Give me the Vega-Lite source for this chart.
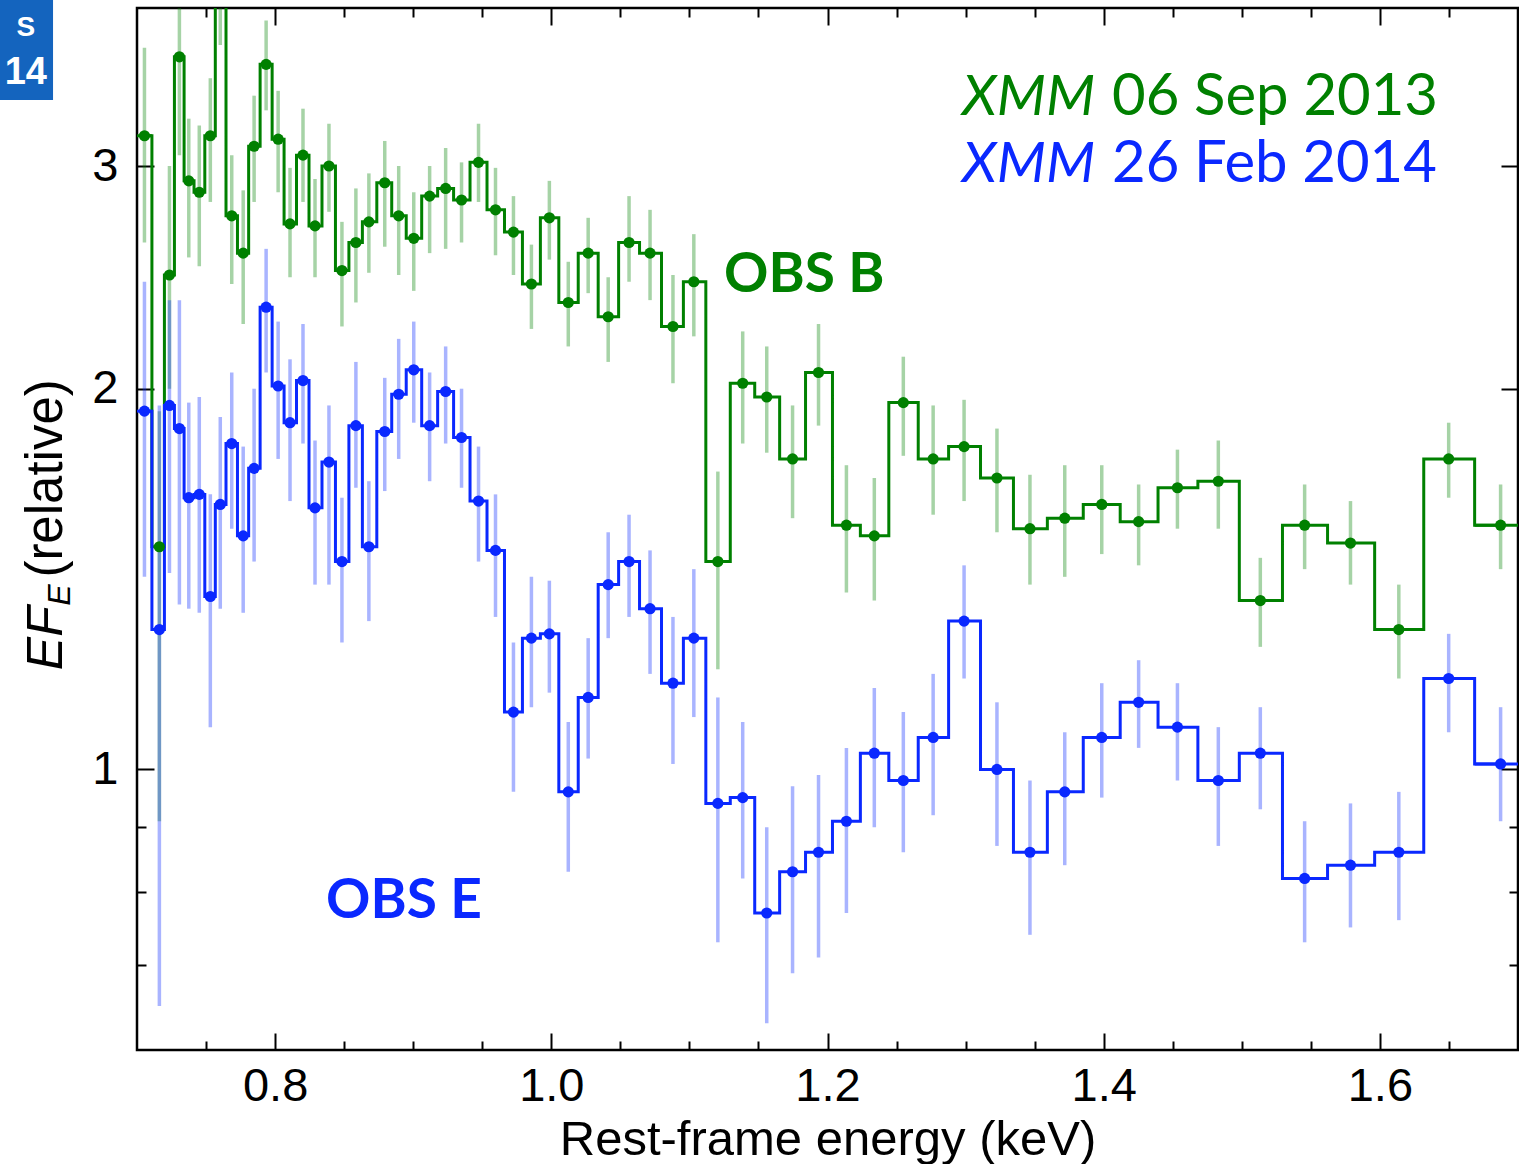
{
  "$schema": "https://vega.github.io/schema/vega-lite/v6.json",
  "width": 1381,
  "height": 1042,
  "autosize": {"type": "none"},
  "padding": {"left": 137, "top": 8, "right": 1, "bottom": 114},
  "background": "white",
  "config": {
    "view": {"stroke": "black", "strokeWidth": 2.5},
    "axis": {"labelFont": "Liberation Sans", "titleFont": "Liberation Sans", "tickColor": "black", "tickWidth": 2, "domain": false, "grid": false, "labelColor": "black", "titleColor": "black", "labelOverlap": false, "labelFlush": false}
  },
  "datasets": {
    "spec": [
      {"s":"B","e":0.7054,"v":3.17,"lo":2.61,"hi":3.72,"e0":0.699,"e1":0.7108},
      {"s":"B","e":0.7162,"v":1.50,"lo":0.91,"hi":1.92},
      {"s":"B","e":0.7235,"v":2.46,"lo":2.00,"hi":3.00},
      {"s":"B","e":0.7307,"v":3.66,"lo":3.06,"hi":4.26},
      {"s":"B","e":0.7375,"v":2.92,"lo":2.54,"hi":3.27},
      {"s":"B","e":0.7451,"v":2.86,"lo":2.50,"hi":3.23},
      {"s":"B","e":0.7531,"v":3.17,"lo":2.81,"hi":3.52},
      {"s":"B","e":0.7603,"v":4.40,"lo":3.74,"hi":5.10},
      {"s":"B","e":0.7686,"v":2.74,"lo":2.42,"hi":3.06},
      {"s":"B","e":0.7769,"v":2.56,"lo":2.25,"hi":2.87},
      {"s":"B","e":0.7848,"v":3.11,"lo":2.81,"hi":3.41},
      {"s":"B","e":0.7935,"v":3.61,"lo":3.32,"hi":3.91},
      {"s":"B","e":0.8022,"v":3.15,"lo":2.86,"hi":3.44},
      {"s":"B","e":0.8108,"v":2.70,"lo":2.45,"hi":2.99},
      {"s":"B","e":0.8202,"v":3.06,"lo":2.81,"hi":3.33},
      {"s":"B","e":0.8289,"v":2.69,"lo":2.45,"hi":2.93},
      {"s":"B","e":0.8390,"v":3.00,"lo":2.76,"hi":3.24},
      {"s":"B","e":0.8484,"v":2.48,"lo":2.24,"hi":2.71},
      {"s":"B","e":0.8585,"v":2.61,"lo":2.34,"hi":2.88},
      {"s":"B","e":0.8679,"v":2.71,"lo":2.47,"hi":2.96},
      {"s":"B","e":0.8794,"v":2.91,"lo":2.59,"hi":3.14},
      {"s":"B","e":0.8895,"v":2.74,"lo":2.46,"hi":3.00},
      {"s":"B","e":0.9004,"v":2.63,"lo":2.39,"hi":2.86},
      {"s":"B","e":0.9119,"v":2.84,"lo":2.56,"hi":3.00},
      {"s":"B","e":0.9235,"v":2.88,"lo":2.58,"hi":3.10},
      {"s":"B","e":0.9350,"v":2.82,"lo":2.61,"hi":3.02},
      {"s":"B","e":0.9473,"v":3.02,"lo":2.81,"hi":3.24},
      {"s":"B","e":0.9596,"v":2.77,"lo":2.55,"hi":2.99},
      {"s":"B","e":0.9726,"v":2.66,"lo":2.46,"hi":2.84},
      {"s":"B","e":0.9856,"v":2.42,"lo":2.23,"hi":2.60},
      {"s":"B","e":0.9986,"v":2.73,"lo":2.53,"hi":2.92},
      {"s":"B","e":1.0123,"v":2.34,"lo":2.16,"hi":2.52},
      {"s":"B","e":1.0267,"v":2.56,"lo":2.38,"hi":2.73},
      {"s":"B","e":1.0412,"v":2.28,"lo":2.10,"hi":2.45},
      {"s":"B","e":1.0563,"v":2.61,"lo":2.43,"hi":2.84},
      {"s":"B","e":1.0715,"v":2.56,"lo":2.35,"hi":2.77},
      {"s":"B","e":1.0881,"v":2.24,"lo":2.02,"hi":2.46},
      {"s":"B","e":1.1032,"v":2.43,"lo":2.20,"hi":2.65},
      {"s":"B","e":1.1206,"v":1.46,"lo":1.20,"hi":1.72},
      {"s":"B","e":1.1386,"v":2.02,"lo":1.81,"hi":2.22},
      {"s":"B","e":1.1560,"v":1.97,"lo":1.78,"hi":2.16},
      {"s":"B","e":1.1747,"v":1.76,"lo":1.58,"hi":1.94},
      {"s":"B","e":1.1935,"v":2.06,"lo":1.87,"hi":2.25},
      {"s":"B","e":1.2137,"v":1.56,"lo":1.38,"hi":1.74},
      {"s":"B","e":1.2339,"v":1.53,"lo":1.36,"hi":1.70},
      {"s":"B","e":1.2549,"v":1.95,"lo":1.77,"hi":2.12},
      {"s":"B","e":1.2765,"v":1.76,"lo":1.59,"hi":1.94},
      {"s":"B","e":1.2989,"v":1.80,"lo":1.63,"hi":1.96},
      {"s":"B","e":1.3227,"v":1.70,"lo":1.54,"hi":1.86},
      {"s":"B","e":1.3466,"v":1.55,"lo":1.40,"hi":1.71},
      {"s":"B","e":1.3718,"v":1.58,"lo":1.42,"hi":1.74},
      {"s":"B","e":1.3986,"v":1.62,"lo":1.48,"hi":1.74},
      {"s":"B","e":1.4253,"v":1.57,"lo":1.45,"hi":1.68},
      {"s":"B","e":1.4534,"v":1.67,"lo":1.55,"hi":1.79},
      {"s":"B","e":1.4830,"v":1.69,"lo":1.55,"hi":1.82},
      {"s":"B","e":1.5134,"v":1.36,"lo":1.25,"hi":1.47},
      {"s":"B","e":1.5455,"v":1.56,"lo":1.44,"hi":1.68},
      {"s":"B","e":1.5787,"v":1.51,"lo":1.40,"hi":1.63},
      {"s":"B","e":1.6137,"v":1.29,"lo":1.18,"hi":1.40},
      {"s":"B","e":1.6498,"v":1.76,"lo":1.64,"hi":1.88},
      {"s":"B","e":1.6874,"v":1.56,"lo":1.44,"hi":1.68,"e0":1.6686,"e1":1.72},
      {"s":"E","e":0.7054,"v":1.92,"lo":1.42,"hi":2.43,"e0":0.699,"e1":0.7108},
      {"s":"E","e":0.7162,"v":1.29,"lo":0.65,"hi":1.94},
      {"s":"E","e":0.7235,"v":1.94,"lo":1.43,"hi":2.35},
      {"s":"E","e":0.7307,"v":1.86,"lo":1.35,"hi":2.35},
      {"s":"E","e":0.7375,"v":1.64,"lo":1.34,"hi":1.95},
      {"s":"E","e":0.7451,"v":1.65,"lo":1.33,"hi":1.97},
      {"s":"E","e":0.7531,"v":1.37,"lo":1.08,"hi":1.65},
      {"s":"E","e":0.7603,"v":1.62,"lo":1.34,"hi":1.90},
      {"s":"E","e":0.7686,"v":1.81,"lo":1.55,"hi":2.06},
      {"s":"E","e":0.7769,"v":1.53,"lo":1.33,"hi":1.80},
      {"s":"E","e":0.7848,"v":1.73,"lo":1.46,"hi":2.00},
      {"s":"E","e":0.7935,"v":2.32,"lo":2.06,"hi":2.58},
      {"s":"E","e":0.8022,"v":2.01,"lo":1.76,"hi":2.26},
      {"s":"E","e":0.8108,"v":1.88,"lo":1.63,"hi":2.11},
      {"s":"E","e":0.8202,"v":2.03,"lo":1.81,"hi":2.25},
      {"s":"E","e":0.8289,"v":1.61,"lo":1.40,"hi":1.82},
      {"s":"E","e":0.8390,"v":1.75,"lo":1.40,"hi":1.94},
      {"s":"E","e":0.8484,"v":1.46,"lo":1.26,"hi":1.64},
      {"s":"E","e":0.8585,"v":1.87,"lo":1.67,"hi":2.10},
      {"s":"E","e":0.8679,"v":1.50,"lo":1.31,"hi":1.69},
      {"s":"E","e":0.8794,"v":1.85,"lo":1.66,"hi":2.04},
      {"s":"E","e":0.8895,"v":1.98,"lo":1.76,"hi":2.19},
      {"s":"E","e":0.9004,"v":2.07,"lo":1.88,"hi":2.26},
      {"s":"E","e":0.9119,"v":1.87,"lo":1.69,"hi":2.06},
      {"s":"E","e":0.9235,"v":1.99,"lo":1.81,"hi":2.16},
      {"s":"E","e":0.9350,"v":1.83,"lo":1.67,"hi":2.00},
      {"s":"E","e":0.9473,"v":1.63,"lo":1.46,"hi":1.80},
      {"s":"E","e":0.9596,"v":1.49,"lo":1.32,"hi":1.65},
      {"s":"E","e":0.9726,"v":1.11,"lo":0.96,"hi":1.26},
      {"s":"E","e":0.9856,"v":1.27,"lo":1.12,"hi":1.42},
      {"s":"E","e":0.9986,"v":1.28,"lo":1.15,"hi":1.41},
      {"s":"E","e":1.0123,"v":0.96,"lo":0.83,"hi":1.09},
      {"s":"E","e":1.0267,"v":1.14,"lo":1.02,"hi":1.27},
      {"s":"E","e":1.0412,"v":1.40,"lo":1.27,"hi":1.54},
      {"s":"E","e":1.0563,"v":1.46,"lo":1.32,"hi":1.59},
      {"s":"E","e":1.0715,"v":1.34,"lo":1.19,"hi":1.49},
      {"s":"E","e":1.0881,"v":1.17,"lo":1.01,"hi":1.32},
      {"s":"E","e":1.1032,"v":1.27,"lo":1.10,"hi":1.44},
      {"s":"E","e":1.1206,"v":0.94,"lo":0.73,"hi":1.14},
      {"s":"E","e":1.1386,"v":0.95,"lo":0.82,"hi":1.09},
      {"s":"E","e":1.1560,"v":0.77,"lo":0.63,"hi":0.90},
      {"s":"E","e":1.1747,"v":0.83,"lo":0.69,"hi":0.97},
      {"s":"E","e":1.1935,"v":0.86,"lo":0.71,"hi":0.99},
      {"s":"E","e":1.2137,"v":0.91,"lo":0.77,"hi":1.04},
      {"s":"E","e":1.2339,"v":1.03,"lo":0.90,"hi":1.16},
      {"s":"E","e":1.2549,"v":0.98,"lo":0.86,"hi":1.11},
      {"s":"E","e":1.2765,"v":1.06,"lo":0.92,"hi":1.19},
      {"s":"E","e":1.2989,"v":1.31,"lo":1.18,"hi":1.45},
      {"s":"E","e":1.3227,"v":1.00,"lo":0.87,"hi":1.13},
      {"s":"E","e":1.3466,"v":0.86,"lo":0.74,"hi":0.98},
      {"s":"E","e":1.3718,"v":0.96,"lo":0.84,"hi":1.07},
      {"s":"E","e":1.3986,"v":1.06,"lo":0.95,"hi":1.17},
      {"s":"E","e":1.4253,"v":1.13,"lo":1.04,"hi":1.22},
      {"s":"E","e":1.4534,"v":1.08,"lo":0.98,"hi":1.17},
      {"s":"E","e":1.4830,"v":0.98,"lo":0.87,"hi":1.08},
      {"s":"E","e":1.5134,"v":1.03,"lo":0.93,"hi":1.12},
      {"s":"E","e":1.5455,"v":0.82,"lo":0.73,"hi":0.91},
      {"s":"E","e":1.5787,"v":0.84,"lo":0.75,"hi":0.94},
      {"s":"E","e":1.6137,"v":0.86,"lo":0.76,"hi":0.96},
      {"s":"E","e":1.6498,"v":1.18,"lo":1.07,"hi":1.28},
      {"s":"E","e":1.6874,"v":1.01,"lo":0.91,"hi":1.12,"e0":1.6686,"e1":1.72}
    ]
  },
  "layer": [
    {
      "data": {"name": "spec"},
      "mark": {"type": "rule", "strokeWidth": 3.5, "opacity": 0.35, "clip": true},
      "encoding": {
        "x": {"field": "e", "type": "quantitative", "scale": {"domain": [0.7, 1.7], "nice": false, "zero": false},
              "axis": {"orient": "bottom", "values": [0.8, 1.0, 1.2, 1.4, 1.6], "format": ".1f", "tickSize": -17, "labelFontSize": 47, "labelPadding": 30, "title": "Rest-frame energy (keV)", "titleFontSize": 49, "titleFontWeight": "normal", "titlePadding": 6}},
        "y": {"field": "lo", "type": "quantitative", "scale": {"type": "log", "domain": [0.6, 4.0], "nice": false},
              "axis": {"orient": "left", "values": [1, 2, 3], "format": "~g", "tickSize": -17, "labelFontSize": 47, "labelPadding": 36, "title": null}},
        "y2": {"field": "hi"},
        "color": {"field": "s", "type": "nominal", "scale": {"domain": ["B", "E"], "range": ["#008000", "#0a28ff"]}, "legend": null}
      }
    },
    {
      "data": {"name": "spec"},
      "mark": {"type": "line", "interpolate": "step", "strokeWidth": 3, "clip": true},
      "encoding": {
        "x": {"field": "e", "type": "quantitative", "axis": {"orient": "top", "values": [0.8, 1.0, 1.2, 1.4, 1.6], "labels": false, "tickSize": -17, "title": null}},
        "y": {"field": "v", "type": "quantitative", "axis": {"orient": "right", "values": [1, 2, 3], "labels": false, "tickSize": -17, "title": null}},
        "color": {"field": "s", "type": "nominal", "legend": null}
      }
    },
    {
      "data": {"name": "spec"},
      "mark": {"type": "circle", "size": 125, "opacity": 1, "clip": true},
      "encoding": {
        "x": {"field": "e", "type": "quantitative", "axis": {"orient": "bottom", "values": [0.75, 0.85, 0.9, 0.95, 1.05, 1.1, 1.15, 1.25, 1.3, 1.35, 1.45, 1.5, 1.55, 1.65], "labels": false, "tickSize": -9, "title": null}},
        "y": {"field": "v", "type": "quantitative", "axis": {"orient": "left", "values": [0.7, 0.8, 0.9], "labels": false, "tickSize": -9, "title": null}},
        "color": {"field": "s", "type": "nominal", "legend": null}
      }
    },
    {
      "data": {"name": "spec"},
      "transform": [{"filter": "isValid(datum.e0)"}],
      "mark": {"type": "rule", "strokeWidth": 3, "clip": true},
      "encoding": {
        "x": {"field": "e0", "type": "quantitative", "axis": {"orient": "top", "values": [0.75, 0.85, 0.9, 0.95, 1.05, 1.1, 1.15, 1.25, 1.3, 1.35, 1.45, 1.5, 1.55, 1.65], "labels": false, "tickSize": -9, "title": null}},
        "x2": {"field": "e1"},
        "y": {"field": "v", "type": "quantitative", "axis": {"orient": "right", "values": [0.7, 0.8, 0.9], "labels": false, "tickSize": -9, "title": null}},
        "color": {"field": "s", "type": "nominal", "legend": null}
      }
    },
    {
      "data": {"values": [{"x0": 0.6008, "x1": 0.6392, "y0": 3.383, "y1": 4.06}]},
      "mark": {"type": "rect", "color": "#1464be", "clip": false},
      "encoding": {
        "x": {"field": "x0", "type": "quantitative", "axis": null},
        "x2": {"field": "x1"},
        "y": {"field": "y0", "type": "quantitative", "axis": null},
        "y2": {"field": "y1"}
      }
    },
    {
      "data": {"values": [{"t": "14", "x": 0.6348, "y": 3.483}]},
      "mark": {"type": "text", "font": "Liberation Sans", "fontWeight": "bold", "fontSize": 38, "align": "right", "baseline": "alphabetic", "color": "white", "clip": false},
      "encoding": {
        "x": {"field": "x", "type": "quantitative", "axis": null},
        "y": {"field": "y", "type": "quantitative", "axis": null},
        "text": {"field": "t"}
      }
    },
    {
      "data": {"values": [{"t": "S", "x": 0.6262, "y": 3.80}]},
      "mark": {"type": "text", "font": "Liberation Sans", "fontWeight": "bold", "fontSize": 28, "align": "right", "baseline": "alphabetic", "color": "white", "clip": false},
      "encoding": {
        "x": {"field": "x", "type": "quantitative", "axis": null},
        "y": {"field": "y", "type": "quantitative", "axis": null},
        "text": {"field": "t"}
      }
    },
    {
      "data": {"values": [{"t": "EF", "x": 0.6457, "y": 1.198}]},
      "mark": {"type": "text", "font": "Liberation Sans", "fontStyle": "italic", "fontSize": 50, "angle": 270, "align": "left", "baseline": "alphabetic", "color": "black", "clip": false},
      "encoding": {
        "x": {"field": "x", "type": "quantitative", "axis": null},
        "y": {"field": "y", "type": "quantitative", "axis": null},
        "text": {"field": "t"}
      }
    },
    {
      "data": {"values": [{"t": "E", "x": 0.6515, "y": 1.347}]},
      "mark": {"type": "text", "font": "Liberation Sans", "fontStyle": "italic", "fontSize": 32, "angle": 270, "align": "left", "baseline": "alphabetic", "color": "black", "clip": false},
      "encoding": {
        "x": {"field": "x", "type": "quantitative", "axis": null},
        "y": {"field": "y", "type": "quantitative", "axis": null},
        "text": {"field": "t"}
      }
    },
    {
      "data": {"values": [{"t": "(relative)", "x": 0.6457, "y": 1.418}]},
      "mark": {"type": "text", "font": "Liberation Sans", "fontSize": 51, "angle": 270, "align": "left", "baseline": "alphabetic", "color": "black", "clip": false},
      "encoding": {
        "x": {"field": "x", "type": "quantitative", "axis": null},
        "y": {"field": "y", "type": "quantitative", "axis": null},
        "text": {"field": "t"}
      }
    },
    {
      "data": {"values": [{"t": "XMM", "x": 1.2974, "y": 3.292, "c": "B"}, {"t": "XMM", "x": 1.2974, "y": 2.914, "c": "E"}]},
      "mark": {"type": "text", "font": "Lato", "fontStyle": "italic", "fontSize": 57, "align": "left", "baseline": "alphabetic", "clip": false},
      "encoding": {
        "x": {"field": "x", "type": "quantitative", "axis": null},
        "y": {"field": "y", "type": "quantitative", "axis": null},
        "text": {"field": "t"},
        "color": {"field": "c", "type": "nominal", "legend": null}
      }
    },
    {
      "data": {"values": [{"t": "06 Sep 2013", "x": 1.406, "y": 3.292, "c": "B"}, {"t": "26 Feb 2014", "x": 1.406, "y": 2.914, "c": "E"}]},
      "mark": {"type": "text", "font": "Lato", "fontSize": 58, "align": "left", "baseline": "alphabetic", "clip": false},
      "encoding": {
        "x": {"field": "x", "type": "quantitative", "axis": null},
        "y": {"field": "y", "type": "quantitative", "axis": null},
        "text": {"field": "t"},
        "color": {"field": "c", "type": "nominal", "legend": null}
      }
    },
    {
      "data": {"values": [{"t": "OBS B", "x": 1.1251, "y": 2.385, "c": "B"}, {"t": "OBS E", "x": 0.8369, "y": 0.763, "c": "E"}]},
      "mark": {"type": "text", "font": "Lato", "fontWeight": "bold", "fontSize": 55, "align": "left", "baseline": "alphabetic", "clip": false},
      "encoding": {
        "x": {"field": "x", "type": "quantitative", "axis": null},
        "y": {"field": "y", "type": "quantitative", "axis": null},
        "text": {"field": "t"},
        "color": {"field": "c", "type": "nominal", "legend": null}
      }
    }
  ],
  "resolve": {"axis": {"x": "independent", "y": "independent"}}
}
